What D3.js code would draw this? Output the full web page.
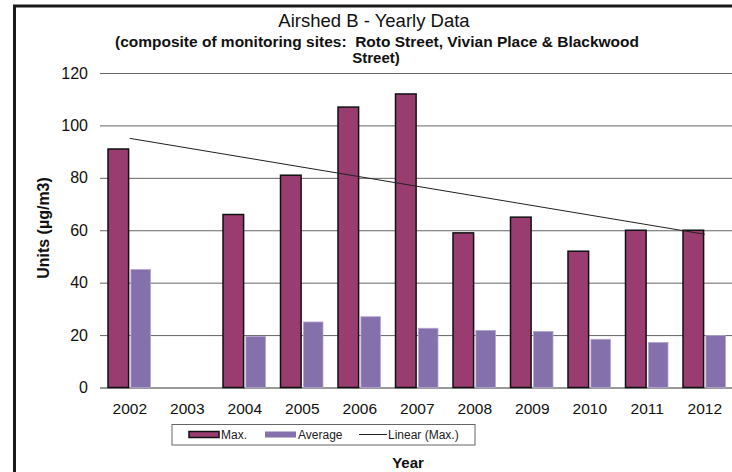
<!DOCTYPE html>
<html>
<head>
<meta charset="utf-8">
<script src="https://cdn.jsdelivr.net/npm/d3@7"></script>
<style>
  body { margin: 0; background: #fff; }
  svg text { font-family: "Liberation Sans", Arial, sans-serif; white-space: pre; }
</style>
</head>
<body>
<div id="chart"></div>
<script>
const years = ["2002", "2003", "2004", "2005", "2006", "2007", "2008", "2009", "2010", "2011", "2012"];
const maxValues = [91, null, 66, 81, 107, 112, 59, 65, 52, 60, 60];
const avgValues = [45, null, 19.5, 25, 27, 22.6, 21.8, 21.4, 18.4, 17.2, 19.8];
const yTicks = [0, 20, 40, 60, 80, 100, 120];
const seriesNames = ["Max.", "Average", "Linear (Max.)"];

const W = 732, H = 472;
const plot = {left: 100, right: 733.5, top: 73, bottom: 387.5};

const svg = d3.select("#chart").append("svg")
    .attr("width", W)
    .attr("height", H);

// chart frame (only top and left edges are inside the picture)
svg.append("path")
    .attr("d", `M14.5,${H} L14.5,6 L${W},6`)
    .attr("fill", "none")
    .attr("stroke", "#1a1a1a")
    .attr("stroke-width", 3);

const x = d3.scaleBand()
    .domain(years)
    .range([plot.left + 1, plot.right]);

const x1 = d3.scaleBand()
    .domain(["max", "avg"])
    .range([7, 50.5])
    .paddingInner(0.1);

const y = d3.scaleLinear()
    .domain([0, 120])
    .range([plot.bottom, plot.top]);

// gridlines + y labels
const yAxis = svg.append("g")
    .attr("transform", `translate(${plot.left},0)`)
    .call(d3.axisLeft(y).tickValues(yTicks).tickSize(-(W - plot.left)).tickPadding(12));
yAxis.select(".domain").remove();
yAxis.selectAll("line")
    .attr("stroke", d => d === 0 ? "#999" : "#666")
    .attr("stroke-width", d => d === 0 ? 2 : 1);
yAxis.selectAll("text")
    .attr("font-size", 16)
    .attr("fill", "#111");

// x labels
const xAxis = svg.append("g")
    .attr("transform", `translate(0,${plot.bottom})`)
    .call(d3.axisBottom(x).tickSize(0).tickPadding(15));
xAxis.select(".domain").remove();
xAxis.selectAll("text")
    .attr("font-size", 15.5)
    .attr("fill", "#111");

const rows = years.map((yr, i) => ({year: yr, max: maxValues[i], avg: avgValues[i], idx: i}));

svg.append("g")
    .selectAll("rect").data(rows.filter(d => d.max != null)).enter().append("rect")
    .attr("x", d => x(d.year) + x1("max"))
    .attr("y", d => y(d.max))
    .attr("width", x1.bandwidth())
    .attr("height", d => y(0) - y(d.max))
    .attr("fill", "#993d70")
    .attr("stroke", "#111")
    .attr("stroke-width", 1.5);

svg.append("g")
    .selectAll("rect").data(rows.filter(d => d.avg != null)).enter().append("rect")
    .attr("x", d => x(d.year) + x1("avg"))
    .attr("y", d => y(d.avg))
    .attr("width", x1.bandwidth() - 1)
    .attr("height", d => y(0) - y(d.avg))
    .attr("fill", "#8470aa")
    .attr("stroke", "#b3a6d0")
    .attr("stroke-width", 0.8);

// linear trend of Max. (least squares over the plotted points)
const pts = rows.filter(d => d.max != null);
const mx = d3.mean(pts, d => d.idx), my = d3.mean(pts, d => d.max);
const slope = d3.sum(pts, d => (d.idx - mx) * (d.max - my)) / d3.sum(pts, d => (d.idx - mx) ** 2);
const trend = i => my + slope * (i - mx);
const groupCenter = i => x(years[i]) + (x1("max") + x1("avg") + x1.bandwidth()) / 2;

svg.append("line")
    .attr("x1", groupCenter(0))
    .attr("y1", y(trend(0)))
    .attr("x2", groupCenter(years.length - 1))
    .attr("y2", y(trend(years.length - 1)))
    .attr("stroke", "#222")
    .attr("stroke-width", 1);

// titles
svg.append("text")
    .attr("x", 374).attr("y", 26.5)
    .attr("text-anchor", "middle")
    .attr("font-size", 18.5)
    .attr("fill", "#111")
    .text("Airshed B - Yearly Data");

svg.append("text")
    .attr("x", 377).attr("y", 46.5)
    .attr("text-anchor", "middle")
    .attr("font-size", 15)
    .attr("font-weight", "bold")
    .attr("fill", "#111")
    .attr("textLength", 524)
    .attr("lengthAdjust", "spacingAndGlyphs")
    .text("(composite of monitoring sites:  Roto Street, Vivian Place & Blackwood");

svg.append("text")
    .attr("x", 376).attr("y", 63)
    .attr("text-anchor", "middle")
    .attr("font-size", 15)
    .attr("font-weight", "bold")
    .attr("fill", "#111")
    .text("Street)");

// axis titles
svg.append("text")
    .attr("transform", "translate(49,228) rotate(-90)")
    .attr("text-anchor", "middle")
    .attr("font-size", 16)
    .attr("font-weight", "bold")
    .attr("fill", "#111")
    .text("Units (µg/m3)");

svg.append("text")
    .attr("x", 408).attr("y", 468)
    .attr("text-anchor", "middle")
    .attr("font-size", 15)
    .attr("font-weight", "bold")
    .attr("fill", "#111")
    .text("Year");

// legend
const legend = svg.append("g");
legend.append("rect")
    .attr("x", 172).attr("y", 424.5)
    .attr("width", 303).attr("height", 20.5)
    .attr("fill", "#fff")
    .attr("stroke", "#666")
    .attr("stroke-width", 1);

const lx = [189, 265, 359];
legend.append("rect")
    .attr("x", lx[0]).attr("y", 431.5).attr("width", 30).attr("height", 6)
    .attr("fill", "#993d70").attr("stroke", "#111").attr("stroke-width", 1.5);
legend.append("rect")
    .attr("x", lx[1]).attr("y", 431.5).attr("width", 31).attr("height", 6)
    .attr("fill", "#8470aa");
legend.append("line")
    .attr("x1", lx[2]).attr("x2", lx[2] + 28).attr("y1", 434.5).attr("y2", 434.5)
    .attr("stroke", "#222").attr("stroke-width", 1);

legend.selectAll("text.leg").data(seriesNames).enter().append("text")
    .attr("class", "leg")
    .attr("x", (d, i) => [221, 298, 388][i])
    .attr("y", 439)
    .attr("font-size", 12)
    .attr("fill", "#222")
    .text(d => d);
</script>
</body>
</html>
